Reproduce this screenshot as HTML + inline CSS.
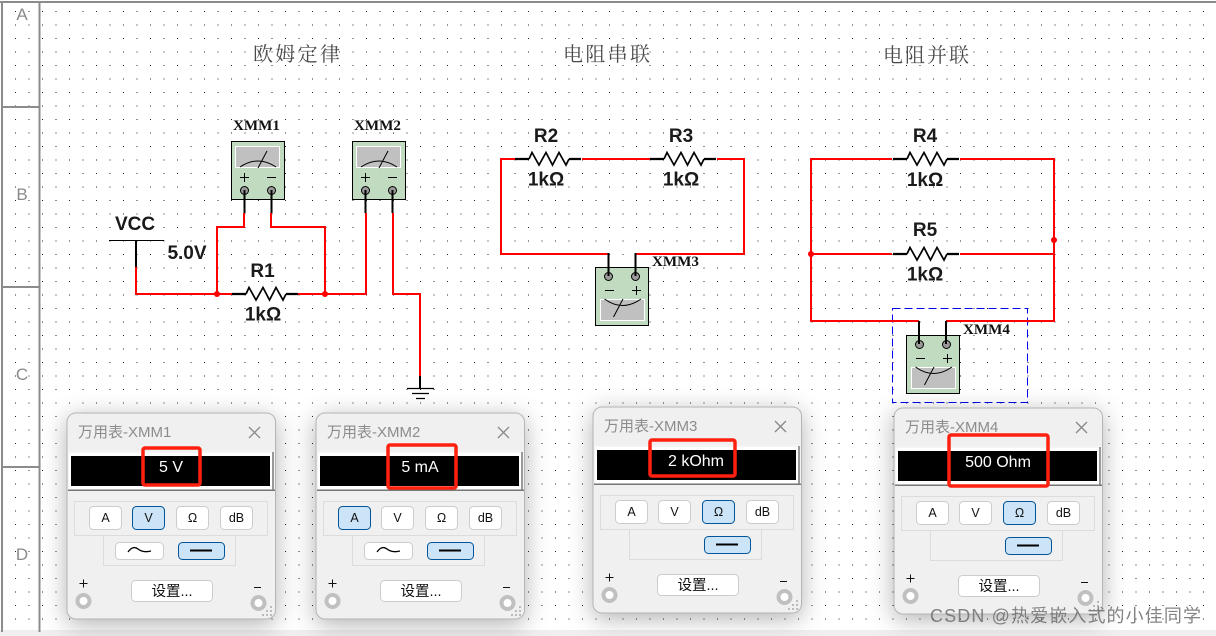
<!DOCTYPE html>
<html><head><meta charset="utf-8"><style>
html,body{margin:0;padding:0;background:#fff;width:1216px;height:636px;overflow:hidden}
svg{display:block}
text{font-family:"Liberation Sans","Noto Sans CJK SC",sans-serif}
.t{font-family:"Noto Serif CJK SC","Liberation Serif",serif;font-size:20px;fill:#4a4a4a}
.l{font-size:19px;font-weight:bold;fill:#1a1a1a;text-anchor:middle}
.x{font-family:"Liberation Serif",serif;font-size:15px;font-weight:bold;fill:#111}
.pt{font-size:15px;fill:#8c8c8c}
.d{font-size:16px;fill:#fff;text-anchor:middle}
.b{font-size:12.5px;fill:#111;text-anchor:middle}
.s{font-size:14.5px;fill:#111;text-anchor:middle}
</style></head><body>
<svg width="1216" height="636" viewBox="0 0 1216 636" xmlns="http://www.w3.org/2000/svg">
<defs>
<pattern id="dots" x="1.5" y="-2.5" width="13.5" height="13.5" patternUnits="userSpaceOnUse"><rect width="1" height="1" fill="#222"/></pattern>
<g id="res" fill="none" stroke="#000"><path d="M0 0H14M54 0H66" stroke-width="2.2"/><path d="M14 0L17 -6.500L24 6L31 -6.500L37.500 6L44 -6.500L51 6L54 0" stroke-width="1.700"/></g>
<g id="mUp">
<rect x=".5" y=".5" width="53" height="58" fill="#c0dbbf" stroke="#000"/>
<rect x="4.500" y="5.500" width="44" height="21" fill="#c0c0c0" stroke="#fff"/>
<path d="M9 26Q27 14 45 26M27 27L36 10" fill="none" stroke="#000"/>
<path d="M9 36.500h9M13.500 32v9M36 36.500h9" stroke="#000" fill="none"/>
<circle cx="13.500" cy="49.500" r="4" fill="#999" stroke="#000"/><circle cx="40.500" cy="49.500" r="4" fill="#999" stroke="#000"/>
</g>
<g id="mDn">
<rect x=".5" y=".5" width="53" height="58" fill="#c0dbbf" stroke="#000"/>
<rect x="5.500" y="32.500" width="44" height="21" fill="#c0c0c0" stroke="#fff"/>
<path d="M9.500 32Q27.500 45 46 32M18.500 50L28 32" fill="none" stroke="#000"/>
<path d="M10 23.500h9M37 23.500h9M41.500 19v9" stroke="#000" fill="none"/>
<circle cx="13.500" cy="9.500" r="4" fill="#999" stroke="#000"/><circle cx="40.500" cy="9.500" r="4" fill="#999" stroke="#000"/>
</g>
<g id="panel">
<rect x="0" y="0" width="208.500" height="206" rx="9" fill="#f0f0f0" stroke="#b5b5b5" style="filter:drop-shadow(0 5px 12px rgba(0,0,0,.3))"/>
<path d="M182 14L193 25M193 14L182 25" stroke="#888" stroke-width="1.300"/>
<rect x="1" y="38" width="207" height="40" fill="#f4f4f4"/>
<rect x="2" y="40" width="203" height="36" fill="#fff"/>
<rect x="205" y="39" width="2" height="38" fill="#999"/>
<rect x="4" y="43" width="199" height="30" fill="#000"/>
<rect x="1" y="76.500" width="207" height="1.500" fill="#777"/>
<rect x="7.500" y="88.500" width="193" height="34" fill="none" stroke="#dcdcdc"/>
<path d="M36.500 122.500V152.500H168.500V122.500" fill="none" stroke="#dcdcdc"/>
<g fill="#fff" stroke="#ccc"><rect x="22.500" y="93.500" width="32" height="23" rx="4"/><rect x="65.500" y="93.500" width="32" height="23" rx="4"/><rect x="109.500" y="93.500" width="32" height="23" rx="4"/><rect x="153.500" y="93.500" width="32" height="23" rx="4"/><rect x="64.500" y="167.500" width="81" height="21" rx="4"/></g>
<rect x="111.500" y="129.500" width="46" height="17" rx="4" fill="#cce4f7" stroke="#005499"/>
<path d="M123 137.500H145" stroke="#000" stroke-width="2"/>
<circle cx="16.500" cy="188" r="6" fill="#fff" stroke="#c0c0c0" stroke-width="4"/>
<circle cx="191.500" cy="190" r="6" fill="#fff" stroke="#c0c0c0" stroke-width="4"/>
<path d="M12.500 170.500h8M16.500 166.500v8M187 174.500h7" stroke="#111" fill="none"/>
<g fill="#bbb"><rect x="203" y="193" width="2" height="2"/><rect x="199" y="197" width="2" height="2"/><rect x="203" y="197" width="2" height="2"/><rect x="195" y="201" width="2" height="2"/><rect x="199" y="201" width="2" height="2"/><rect x="203" y="201" width="2" height="2"/></g>
</g>
<g id="ac">
<rect x="48.500" y="129.500" width="48" height="17" rx="4" fill="#fff" stroke="#ccc"/>
<path d="M61 139Q66 132 71 136T84 138" fill="none" stroke="#000" stroke-width="1.300"/>
</g>
</defs>

<rect width="1216" height="636" fill="#fff"/>
<rect width="1216" height="630" fill="url(#dots)"/>
<rect y="630" width="1216" height="6" fill="#efefef"/>

<!-- ruler -->
<g fill="#8c8c8c">
<rect x="0" y="1" width="1216" height="2"/>
<rect x="1" y="1" width="2" height="631"/>
<rect x="38.500" y="1" width="2" height="631"/>
<rect x="1" y="106" width="38" height="2"/>
<rect x="1" y="286" width="38" height="2"/>
<rect x="1" y="466" width="38" height="2"/>
</g>
<g font-size="17" fill="#8a8a8a" text-anchor="middle">
<text x="22" y="20">A</text><text x="22" y="200">B</text><text x="22" y="380">C</text><text x="22" y="560">D</text>
</g>

<!-- titles -->
<text class="t" x="253" y="61" textLength="87" lengthAdjust="spacing">欧姆定律</text>
<text class="t" x="563" y="61" textLength="87" lengthAdjust="spacing">电阻串联</text>
<text class="t" x="883" y="62" textLength="86" lengthAdjust="spacing">电阻并联</text>

<!-- circuit 1 -->
<g fill="none" stroke="#f00" stroke-width="2">
<path d="M136 267V294H232M298 294H366V213M217 294V227H244V213M271 213V227H325V294M393 213V294H420V376"/>
</g>
<use href="#res" x="232" y="294"/>
<circle cx="217" cy="294" r="3" fill="#f00"/><circle cx="325" cy="294" r="3" fill="#f00"/>
<use href="#mUp" x="231" y="141"/><use href="#mUp" x="352" y="141"/>
<g fill="none" stroke="#000" stroke-width="2">
<path d="M136 240V267M244.500 190V213M271.500 190V213M365.500 190V213M392.500 190V213M420 376V388"/>
</g>
<path d="M109 240.500H164" stroke="#000"/>
<path d="M407 388.500H434M412 393.500H429M416 398.500H425" stroke="#000" stroke-width="1.300"/>
<text class="x" x="233" y="130" textLength="47" lengthAdjust="spacingAndGlyphs">XMM1</text>
<text class="x" x="354" y="130" textLength="47" lengthAdjust="spacingAndGlyphs">XMM2</text>
<text class="l" x="135" y="230">VCC</text>
<text class="l" x="187" y="259">5.0V</text>
<text class="l" x="262.500" y="277">R1</text>
<text class="l" x="263" y="320.500">1kΩ</text>

<!-- circuit 2 -->
<g fill="none" stroke="#f00" stroke-width="2">
<path d="M515 159H501V254H609M582 159H650M717 159H744V254H636"/>
</g>
<use href="#res" x="515" y="159"/><use href="#res" x="650" y="159"/>
<use href="#mDn" x="595" y="267"/>
<path d="M608.500 253V276M635.500 253V276" stroke="#000" stroke-width="2"/>
<text class="x" x="652" y="266" textLength="47" lengthAdjust="spacingAndGlyphs">XMM3</text>
<text class="l" x="546" y="142">R2</text><text class="l" x="546" y="185.500">1kΩ</text>
<text class="l" x="681" y="142">R3</text><text class="l" x="681" y="185.500">1kΩ</text>

<!-- circuit 3 -->
<rect x="892.500" y="308.500" width="135" height="94" fill="none" stroke="#0000ee" stroke-dasharray="8 4"/>
<g fill="none" stroke="#f00" stroke-width="2">
<path d="M892 159H811V321H919M960 159H1054V321H946M811 254H892M960 254H1054"/>
</g>
<use href="#res" x="893" y="159"/><use href="#res" x="893" y="254"/>
<use href="#mDn" x="906" y="335"/>
<path d="M919 321V344M946 321V344" stroke="#000" stroke-width="2"/>
<circle cx="811" cy="254" r="3" fill="#f00"/><circle cx="1054" cy="240" r="3" fill="#f00"/>
<text class="x" x="963" y="334" textLength="47" lengthAdjust="spacingAndGlyphs">XMM4</text>
<text class="l" x="925" y="142">R4</text><text class="l" x="925" y="186">1kΩ</text>
<text class="l" x="925" y="236">R5</text><text class="l" x="925" y="280.500">1kΩ</text>

<!-- panel 1 -->
<g transform="translate(67 413)">
<use href="#panel"/><use href="#ac"/>
<rect x="65.500" y="93.500" width="32" height="23" rx="4" fill="#cce4f7" stroke="#005499"/>
<text class="pt" x="11" y="24">万用表-XMM1</text>
<text class="d" x="104" y="59">5 V</text>
<text class="b" x="38.500" y="109">A</text><text class="b" x="81.500" y="109">V</text><text class="b" x="125.500" y="109">Ω</text><text class="b" x="169.500" y="109">dB</text>
<text class="s" x="105" y="183">设置...</text>
</g>
<!-- panel 2 -->
<g transform="translate(316 413)">
<use href="#panel"/><use href="#ac"/>
<rect x="22.500" y="93.500" width="32" height="23" rx="4" fill="#cce4f7" stroke="#005499"/>
<text class="pt" x="11" y="24">万用表-XMM2</text>
<text class="d" x="104" y="59">5 mA</text>
<text class="b" x="38.500" y="109">A</text><text class="b" x="81.500" y="109">V</text><text class="b" x="125.500" y="109">Ω</text><text class="b" x="169.500" y="109">dB</text>
<text class="s" x="105" y="183">设置...</text>
</g>
<!-- panel 3 -->
<g transform="translate(593 407)">
<use href="#panel"/>
<rect x="109.500" y="93.500" width="32" height="23" rx="4" fill="#cce4f7" stroke="#005499"/>
<text class="pt" x="11" y="24">万用表-XMM3</text>
<text class="d" x="103" y="59">2 kOhm</text>
<text class="b" x="38.500" y="109">A</text><text class="b" x="81.500" y="109">V</text><text class="b" x="125.500" y="109">Ω</text><text class="b" x="169.500" y="109">dB</text>
<text class="s" x="105" y="183">设置...</text>
</g>
<!-- panel 4 -->
<g transform="translate(894 408)">
<use href="#panel"/>
<rect x="109.500" y="93.500" width="32" height="23" rx="4" fill="#cce4f7" stroke="#005499"/>
<text class="pt" x="11" y="24">万用表-XMM4</text>
<text class="d" x="104" y="59">500 Ohm</text>
<text class="b" x="38.500" y="109">A</text><text class="b" x="81.500" y="109">V</text><text class="b" x="125.500" y="109">Ω</text><text class="b" x="169.500" y="109">dB</text>
<text class="s" x="105" y="183">设置...</text>
</g>

<!-- red highlight boxes -->
<g fill="none" stroke="#ff2010" stroke-width="3.500">
<rect x="143" y="448" width="57" height="37" rx="2"/>
<rect x="388" y="445" width="68" height="43" rx="2"/>
<rect x="650" y="440" width="85" height="36" rx="2"/>
<rect x="949" y="435" width="99" height="51" rx="2"/>
</g>

<!-- watermark -->
<text x="930" y="622" font-size="18" fill="#6e6e6e" fill-opacity=".85" textLength="271" lengthAdjust="spacing">CSDN @热爱嵌入式的小佳同学</text>
</svg>
</body></html>
